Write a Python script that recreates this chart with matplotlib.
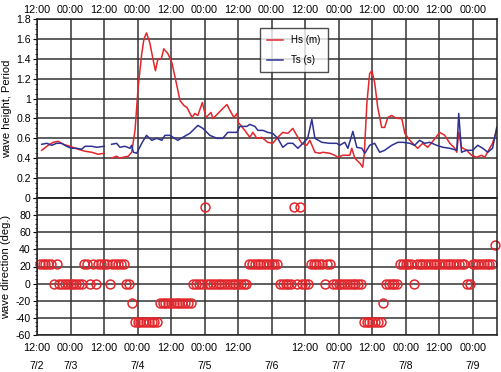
import matplotlib
matplotlib.use("Agg")
import matplotlib.pyplot as plt
import matplotlib.transforms as mtransforms
import numpy as np
from matplotlib.ticker import AutoMinorLocator

# hours since 7/2 12:00
hs_seg1_h = [1.7, 4.0, 5.8, 7.6, 9.4, 11.8, 14.8, 17.2, 19.6, 21.9, 24.0]
hs_seg1 = [0.48, 0.53, 0.56, 0.57, 0.54, 0.52, 0.49, 0.47, 0.46, 0.44, 0.45]
hs_seg2_h = [26.7, 28.5, 29.7, 30.9, 32.7, 33.9, 35.1, 36.2, 37.5, 38.3, 39.2, 40.4, 41.5, 42.4,
             43.3, 44.5, 45.4, 46.9, 48.3, 49.7, 51.2, 52.6, 53.7, 55.5, 56.5, 57.6, 59.2, 60.5,
             62.3, 63.0, 64.8, 66.5, 68.0, 69.1, 70.5, 71.6, 72.1, 74.4, 76.2, 77.3, 78.7, 80.5,
             82.6, 84.4, 86.2, 88.0, 89.8, 91.6, 93.0, 94.8, 96.6, 97.7, 99.5, 101.3, 102.3, 104.8,
             106.6, 107.7, 109.5, 112.0, 112.7, 113.8, 115.6, 116.6, 117.2, 118.1, 119.1, 119.9,
             120.9, 122.0, 123.4, 124.5, 125.6, 127.0, 128.1, 129.2, 130.6, 131.7, 133.5, 135.2,
             136.3, 138.1, 139.9, 141.7, 144.2, 146.0, 147.8, 149.6, 150.3, 151.0, 152.0, 153.8,
             155.6, 157.4, 159.2, 160.3, 162.1, 163.1, 164.6]
hs_seg2 = [0.40, 0.42, 0.40, 0.41, 0.42, 0.46, 0.68, 1.11, 1.45, 1.60, 1.66, 1.56, 1.40, 1.28,
           1.40, 1.40, 1.50, 1.45, 1.36, 1.18, 0.98, 0.93, 0.91, 0.81, 0.85, 0.83, 0.96, 0.81,
           0.86, 0.80, 0.85, 0.90, 0.94, 0.88, 0.81, 0.85, 0.76, 0.68, 0.61, 0.66, 0.60, 0.61,
           0.56, 0.55, 0.61, 0.66, 0.65, 0.70, 0.63, 0.55, 0.53, 0.58, 0.46, 0.45, 0.46, 0.45,
           0.43, 0.41, 0.43, 0.43, 0.50, 0.40, 0.35, 0.31, 0.45, 0.95, 1.25, 1.28,
           1.16, 0.91, 0.71, 0.71, 0.81, 0.83, 0.81, 0.80, 0.80, 0.65, 0.58, 0.53,
           0.50, 0.55, 0.51, 0.57, 0.66, 0.63, 0.55, 0.50, 0.46, 0.66, 0.51, 0.48,
           0.43, 0.41, 0.43, 0.41, 0.50, 0.55, 0.68]

ts_seg1_h = [1.7, 3.5, 5.3, 7.0, 8.8, 10.6, 12.4, 14.2, 16.0, 17.2, 19.6, 21.4, 24.0]
ts_seg1 = [0.54, 0.55, 0.53, 0.55, 0.55, 0.52, 0.50, 0.50, 0.49, 0.52, 0.52, 0.51, 0.52]
ts_seg2_h = [26.7, 28.5, 29.7, 31.5, 33.3, 33.9, 34.5, 35.7, 37.5, 39.2, 41.1, 42.9, 44.7, 45.8,
             47.6, 48.7, 50.4, 52.2, 54.7, 57.6, 59.4, 61.9, 64.4, 66.5, 68.3, 71.6, 72.6, 75.1,
             76.2, 78.0, 79.1, 80.9, 82.6, 84.4, 86.2, 88.0, 89.8, 91.6, 93.4, 95.2, 96.9, 98.4,
             99.5, 102.0, 104.8, 107.3, 108.4, 110.2, 111.3, 113.1, 114.5, 116.3, 117.4, 119.1,
             120.9, 122.7, 124.5, 127.0, 129.2, 131.0, 133.5, 135.2, 137.0, 138.8, 140.6, 143.1,
             145.3, 147.8, 150.3, 151.0, 152.0, 153.8, 156.0, 157.8, 159.6, 161.4, 163.1, 164.6]
ts_seg2 = [0.54, 0.55, 0.51, 0.52, 0.50, 0.53, 0.46, 0.45, 0.55, 0.63, 0.58, 0.60, 0.58, 0.63,
           0.63, 0.61, 0.58, 0.61, 0.65, 0.73, 0.70, 0.63, 0.60, 0.60, 0.66, 0.66, 0.72, 0.72,
           0.74, 0.72, 0.68, 0.68, 0.66, 0.65, 0.60, 0.51, 0.55, 0.55, 0.50, 0.55, 0.60, 0.79,
           0.60, 0.56, 0.55, 0.55, 0.53, 0.56, 0.50, 0.67, 0.51, 0.50, 0.45, 0.53,
           0.55, 0.46, 0.48, 0.53, 0.56, 0.56, 0.55, 0.53, 0.58, 0.55, 0.56, 0.53,
           0.51, 0.50, 0.48, 0.85, 0.46, 0.48, 0.48, 0.53, 0.50, 0.46, 0.50, 0.71]

# hourly wave direction, hours 1..164
dir_deg = [
    22.5, 22.5, 22.5, 22.5, 22.5, 0, 22.5, 0, 0, 0, 0, 0, 0, 0, 0, 0,
    22.5, 22.5, 0, 22.5, 0, 22.5, 22.5, 22.5, 22.5, 0, 22.5, 22.5, 22.5, 22.5, 22.5, 0,
    0, -22.5, -45, -45, -45, -45, -45, -45, -45, -45, -45, -22.5, -22.5, -22.5, -22.5, -22.5,
    -22.5, -22.5, -22.5, -22.5, -22.5, -22.5, -22.5, 0, 0, 0, 0, 90, 0, 0, 0, 0,
    0, 0, 0, 0, 0, 0, 0, 0, 0, 0, 0, 22.5, 22.5, 22.5, 22.5, 22.5,
    22.5, 22.5, 22.5, 22.5, 22.5, 22.5, 0, 0, 0, 0, 0, 90, 0, 90, 0, 0,
    0, 22.5, 22.5, 22.5, 22.5, 22.5, 0, 22.5, 22.5, 0, 0, 0, 0, 0, 0, 0,
    0, 0, 0, 0, -45, -45, -45, -45, -45, -45, -45, -22.5, 0, 0, 0, 0,
    0, 22.5, 22.5, 22.5, 22.5, 22.5, 0, 22.5, 22.5, 22.5, 22.5, 22.5, 22.5, 22.5, 22.5, 22.5,
    22.5, 22.5, 22.5, 22.5, 22.5, 22.5, 22.5, 22.5, 22.5, 0, 0, 22.5, 22.5, 22.5, 22.5, 22.5,
    22.5, 22.5, 22.5, 45,
]
dir_h = list(range(1, len(dir_deg) + 1))

tick_h = [0, 12, 24, 36, 48, 60, 72, 84, 96, 108, 120, 132, 144, 156]
top_labels = ["12:00", "00:00"] * 7
bottom_labels = ["12:00", "00:00", "12:00", "00:00", "12:00", "00:00", "12:00",
                 "", "12:00", "00:00", "12:00", "00:00", "12:00", "00:00"]
date_h = [0, 12, 36, 60, 84, 108, 132, 156]
date_labels = ["7/2", "7/3", "7/4", "7/5", "7/6", "7/7", "7/8", "7/9"]

red = "#e3262b"
blue = "#2e3192"
grid_c = "#333333"

plt.rcParams["font.family"] = ["Liberation Sans", "DejaVu Sans"]
plt.rcParams["font.size"] = 7

fig = plt.figure(figsize=(5.02, 3.72), dpi=100)
x0, x1 = 37 / 502, 497 / 502
ax1 = fig.add_axes([x0, 1 - 198 / 372, x1 - x0, (198 - 19) / 372])
ax2 = fig.add_axes([x0, 1 - 335 / 372, x1 - x0, (335 - 198) / 372])

for ax in (ax1, ax2):
    ax.set_xlim(0, 164.7)
    ax.set_xticks(tick_h)
    ax.grid(True, color=grid_c, linewidth=1.1)
    ax.set_axisbelow(True)
    for s in ax.spines.values():
        s.set_color("#222222")
        s.set_linewidth(1.1)
    ax.yaxis.set_minor_locator(AutoMinorLocator(4))
    ax.tick_params(axis="y", which="major", length=3, width=0.8, pad=1.5, labelsize=7.6)
    ax.tick_params(axis="y", which="minor", length=1.5, width=0.6)

ax1.plot(hs_seg1_h, hs_seg1, color=red, lw=1.1, label="Hs (m)")
ax1.plot(hs_seg2_h, hs_seg2, color=red, lw=1.1)
ax1.plot(ts_seg1_h, ts_seg1, color=blue, lw=1.1, label="Ts (s)")
ax1.plot(ts_seg2_h, ts_seg2, color=blue, lw=1.1)
ax1.set_ylim(0, 1.8)
ax1.set_yticks(np.arange(0, 1.81, 0.2))
ax1.set_yticklabels(["0", "0.2", "0.4", "0.6", "0.8", "1", "1.2", "1.4", "1.6", "1.8"])
ax1.xaxis.tick_top()
ax1.set_xticklabels(top_labels)
ax1.tick_params(axis="x", length=0, pad=3, labelsize=7.8)
ax1.set_ylabel("wave height, Period", fontsize=8, labelpad=3)
leg = ax1.legend(loc="upper left", bbox_to_anchor=(0.4837, 0.95), frameon=True, fancybox=False,
                 edgecolor="#222222", fontsize=7, handlelength=1.7, borderpad=0.75,
                 labelspacing=1.0, handletextpad=0.8, borderaxespad=0)
leg.get_frame().set_linewidth(1.0)

ax2.plot(dir_h, dir_deg, linestyle="none", marker="o", markersize=6.4,
         markerfacecolor="none", markeredgecolor=red, markeredgewidth=1.1, clip_on=False)
ax2.set_ylim(-60, 100)
ax2.set_yticks([-60, -40, -20, 0, 20, 40, 60, 80, 100])
ax2.set_yticklabels(["-60", "-40", "-20", "0", "20", "40", "60", "80", ""])
ax2.set_xticklabels(bottom_labels)
ax2.tick_params(axis="x", length=0, pad=6, labelsize=7.8)
ax2.set_ylabel("wave direction (deg.)", fontsize=8, labelpad=3)

trans = mtransforms.blended_transform_factory(ax2.transData, ax2.transAxes)
for h, lab in zip(date_h, date_labels):
    ax2.text(h, -0.225, lab, transform=trans, ha="center", va="center", fontsize=7.5)

fig.savefig("out.png", dpi=100)
